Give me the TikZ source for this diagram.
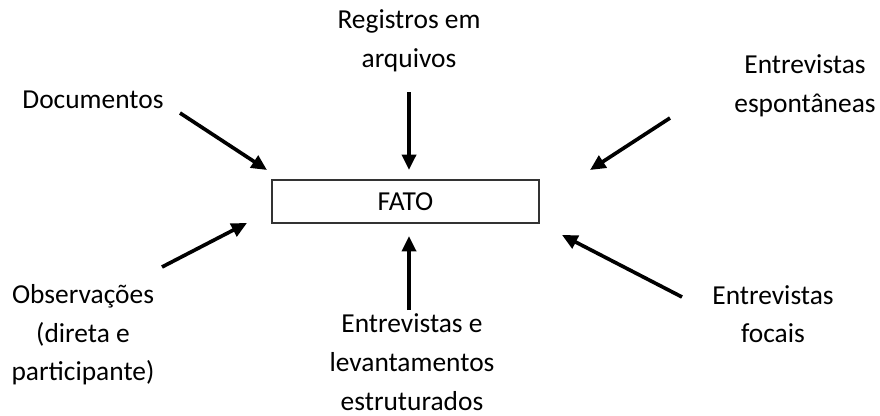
\documentclass[tikz,border=0pt]{standalone}
\usepackage{fontspec}
\setmainfont{Carlito}
\usetikzlibrary{arrows.meta}
\tikzset{
  rotulo/.style={align=center,font=\fontsize{19.5pt}{27.5pt}\selectfont,inner sep=0pt},
  seta/.style={line width=2.6pt,-{Triangle[length=11pt,width=10pt]}},
}
\begin{document}
\begin{tikzpicture}[x=0.025cm,y=-0.025cm]
            \useasboundingbox (0,0) rectangle (880,415);
            \node[draw=black!80,line width=1.2pt,minimum width=267*0.025cm,minimum height=43*0.025cm,font=\fontsize{19.5pt}{22pt}\selectfont] (fato) at (405.5,201.5) {FATO};
            \node[rotulo] (registros) at (409,41) {Registros em\\arquivos};
            \node[rotulo] (documentos) at (93,100) {Documentos};
            \node[rotulo] (espontaneas) at (805,86) {Entrevistas\\espontâneas};
            \node[rotulo] (observacoes) at (83,335) {Observações\\(direta e\\participante)};
            \node[rotulo] (estruturados) at (412,362) {Entrevistas e\\levantamentos\\estruturados};
            \node[rotulo] (focais) at (773,314) {Entrevistas\\focais};
            \coordinate (a1) at (180,113);
            \coordinate (b1) at (267,170);
            \coordinate (a2) at (409,92);
            \coordinate (b2) at (409,170);
            \coordinate (a3) at (670,118);
            \coordinate (b3) at (590,170);
            \coordinate (a4) at (162,267);
            \coordinate (b4) at (247,223);
            \coordinate (a5) at (409,310);
            \coordinate (b5) at (409,236);
            \coordinate (a6) at (682,297);
            \coordinate (b6) at (562,235);
            \foreach \i in {1,...,6}
              \draw[seta] (a\i) -- (b\i);
        \end{tikzpicture}
\end{document}
